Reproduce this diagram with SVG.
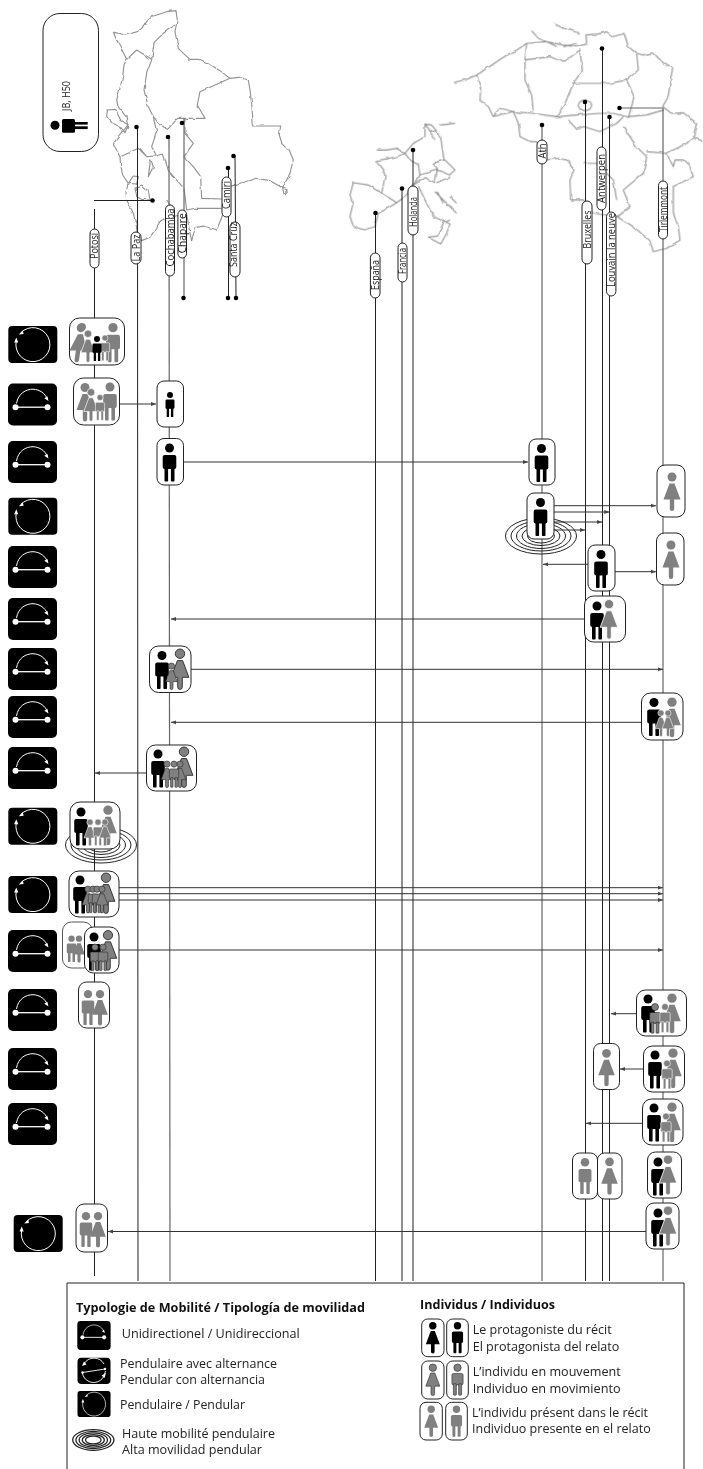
<svg xmlns="http://www.w3.org/2000/svg" width="703" height="1469" viewBox="0 0 703 1469">
<style>
text{font-family:"Open Sans","Liberation Sans",sans-serif;fill:#222}
.lab{font-size:11.5px;text-anchor:middle}
.leg{font-size:12.8px}
.hd{font-size:12.2px;font-weight:700;fill:#111}
.box{fill:#fff;stroke:#222;stroke-width:1}
.boxl{fill:#fff;stroke:#555;stroke-width:1}
.map{fill:none;stroke:#929292;stroke-width:3.4;stroke-linejoin:round}
.v{stroke:#222;stroke-width:1;fill:none}
.vg{stroke:#666;stroke-width:1.2;fill:none}
.c{stroke:#333;stroke-width:1;fill:none}
.ca{stroke:#333;stroke-width:1;fill:none;marker-end:url(#ah)}
.k{fill:#000}
.g{fill:#808080}
.o{fill:#808080;stroke:#333;stroke-width:.8}
.w{fill:#808080;stroke:#fff;stroke-width:.8}
.wo{fill:#808080;stroke:#222;stroke-width:.8}
.rw{fill:none;stroke:#fff}
.dot{fill:#000}
</style>
<defs>
<filter id="rough" filterUnits="userSpaceOnUse" x="0" y="0" width="703" height="320"><feTurbulence type="fractalNoise" baseFrequency=".12" numOctaves="2" seed="4" result="n"/><feDisplacementMap in="SourceGraphic" in2="n" scale="3" xChannelSelector="R" yChannelSelector="G"/></filter>
<marker id="ah" markerUnits="userSpaceOnUse" markerWidth="6" markerHeight="6" refX="5" refY="2.5" orient="auto"><path d="M0,.6L5,2.5L0,4.4Z" fill="#444"/></marker>
<g id="m"><circle cx="0" cy="4.5" r="4.5"/><rect x="-6.8" y="11.5" width="13.6" height="14" rx="2"/><rect x="-5" y="24" width="3.6" height="14" rx=".8"/><rect x="1.4" y="24" width="3.6" height="14" rx=".8"/></g>
<g id="f"><circle cx="0" cy="4.5" r="4.5"/><path d="M-2.5,11H2.5L8.5,27H2.2V36.3a2.2,2.2 0 0 1-4.4,0V27H-8.5Z"/></g>
<g id="ic"><rect width="49" height="37" rx="4" fill="#000"/><path class="rw" d="M12.5,6.7A17,17 0 1 1 8,15"/><path d="M10.5,8.5L14.5,4.6L15.3,8Z M8,11.5L5.8,16.5H10Z" fill="#fff"/></g>
<g id="ia"><rect width="49" height="42" rx="5" fill="#000"/><path stroke="#fff" stroke-width="1.3" d="M7.5,23.7H39"/><circle cx="7.5" cy="23.7" r="3" fill="#fff"/><circle cx="39.5" cy="23.7" r="3" fill="#fff"/><path class="rw" d="M8.5,20C10,10 18,5.6 25,5.7C32,6 37,10 39.5,15.5"/><path d="M40.5,17.5L36.3,14.8L39.3,12.7Z" fill="#fff"/></g>
<g id="r" fill="none" stroke="#222"><ellipse rx="35.5" ry="18"/><ellipse rx="30" ry="15"/><ellipse rx="24.5" ry="12.5"/><ellipse rx="19" ry="9.5"/><ellipse rx="13.5" ry="7"/></g>
</defs>

<g id="maps" filter="url(#rough)">
<g id="map-bolivia" transform="scale(.3333)">
<path class="map" d="M528,32L500,35L470,45L450,52L440,62L425,85L412,95L395,100L375,106L358,100L340,97L350,120L365,148L380,178L372,195L368,230L360,265L350,300L356,322L378,350L383,375L365,400L340,430L352,455L360,470L362,500L368,525L385,550L378,575L380,600L400,640L408,670L412,700L425,722L450,712L468,685L480,665L500,655L540,645L560,640L568,690L575,722L588,683L610,678L650,690L668,645L690,560L720,550L770,535L810,542L850,565L862,570L852,582L848,565L870,520L880,480L868,450L845,428L838,405L842,378L790,378L760,378L756,320L750,270L745,240L720,232L690,235L660,212L625,190L595,178L570,178L550,160L535,145L530,120L525,95L532,60Z"/>
<path class="map" d="M380,178L410,150L455,178M525,75L490,100L462,128L456,178L440,220L432,270L445,320L460,350L480,375L503,385L530,355L615,355L592,315L600,275L690,235"/>
<path class="map" d="M460,350L470,395L455,440L470,468L440,470L415,445L362,470M555,355L555,400L580,430L552,470L580,500L602,530L605,595L665,597M665,625L585,625L560,630L552,565L505,512L490,462L470,468M500,600L515,620L500,640M420,445L440,470"/>
<path class="map" d="M322,330L345,328L362,360L385,375L375,398L360,380L335,368L320,350Z"/>
<path class="map" d="M400,528L415,530L410,552L385,550ZM450,478L460,500L445,530L450,490ZM405,565L425,555L445,570L450,600L425,598L410,590Z"/>
</g>
<g id="map-europe" transform="translate(350,0) scale(.3333)">
<path class="map" d="M0,585L10,548L55,555L95,580L120,595L140,608L112,625L85,640L75,680L40,690L10,678L0,650L8,615Z"/>
<path class="map" d="M95,580L105,530L100,508L80,482L102,478L140,470L165,460L180,480L205,495L210,525L190,555L165,590L140,608"/>
<path class="map" d="M80,450L110,450L140,445L165,460L190,430L225,410L225,372L240,392L260,395L272,410L282,480L250,490L262,510L210,525M225,372L245,375L265,400M270,375L315,370M235,385L255,420"/>
<path class="map" d="M250,490L285,480L315,510L298,525L262,510L255,548L225,533L190,555M262,548L300,530M205,558L225,600L250,650L300,672L290,700L272,732L235,712L262,708L280,670L300,660M255,575L320,640M320,610L300,590M262,575L280,610"/>
</g>
<g id="map-belgium" transform="translate(350,0) scale(.3333)">
<path class="map" d="M312,247L345,240L380,225L425,195L470,165L500,150L530,130L590,125L640,135L680,140M545,92L565,115L590,125L620,140M615,72L640,85L665,92L690,100M640,140L680,130"/>
<path class="map" d="M680,140L710,132L708,105L745,102L770,95L790,110L822,100L835,140L860,160L880,165L910,158L940,190L968,205L960,250L955,290L938,320L965,340L1000,338L1040,370L1030,410L1059,425"/>
<path class="map" d="M380,225L392,265L390,300L415,320L430,350L450,325L490,335L505,370L510,410L540,425L560,425L590,480L625,475L650,480L672,510L660,540L662,600L700,600L730,640L800,650L850,680L900,722L910,755L950,745L990,720L985,680L970,640L970,560L1000,545L1030,530L1020,500L1000,480L975,480L970,500L950,460L1010,430L1030,410"/>
<path class="map" d="M430,350L490,335L550,340L620,350L680,345L750,340L790,340L830,350L890,345L940,330M530,130L525,180L525,240L545,285L550,335M525,180L600,170L640,187L690,150L697,210L670,250L645,310L620,350M670,250L720,250L780,250L830,240L865,210L860,160M830,240L852,290L835,355"/>
<ellipse class="map" cx="705" cy="316" rx="20" ry="16"/>
<path class="map" d="M655,360L680,388L700,380L750,395L800,370L820,350M820,380L860,440L890,470L880,520L820,570L840,620L800,650M700,490L740,490L790,540L800,600M890,455L950,460"/>
</g>
</g>

<g id="connectors">
<path class="v" d="M94.5,209V1276M94,200.5H152"/>
<path class="v" d="M137.5,127L138,1281"/>
<path class="vg" d="M169,137L170,1281"/>
<path class="vg" d="M184,118V298"/>
<path class="v" d="M228.5,168V298M235,156L236,298"/>
<path class="v" d="M375.5,213V1281M402,188.5V1281M413,150V1281"/>
<path class="vg" d="M542,125V1281"/>
<path class="v" d="M585.5,102V1281M602.5,48.5V1281M609.5,117V1281"/>
<path class="vg" d="M619.5,108H663V1281"/>
<g class="dot"><circle cx="152.5" cy="200.5" r="2.3"/><circle cx="136.5" cy="127" r="2.3"/><circle cx="168" cy="137" r="2.3"/><circle cx="182" cy="123" r="2.3"/><circle cx="183.5" cy="298" r="2.3"/><circle cx="228" cy="168" r="2.3"/><circle cx="233.5" cy="156" r="2.3"/><circle cx="228" cy="298" r="2.3"/><circle cx="236" cy="298" r="2.3"/><circle cx="375.5" cy="213" r="2.3"/><circle cx="402" cy="188.5" r="2.3"/><circle cx="413" cy="150" r="2.3"/><circle cx="542" cy="125" r="2.3"/><circle cx="585" cy="102" r="2.3"/><circle cx="602" cy="48.5" r="2.3"/><circle cx="609.5" cy="117" r="2.3"/><circle cx="619.5" cy="108" r="2.3"/></g>
<path class="ca" d="M119.5,404H156"/>
<path class="ca" d="M183.5,462H528"/>
<path class="ca" d="M554,505.7H656"/>
<path class="ca" d="M554,512H609.3"/>
<path class="ca" d="M554,522H602"/>
<path class="ca" d="M554,530H585"/>
<path class="ca" d="M588,564.3H543"/>
<path class="ca" d="M615,571.7H656"/>
<path class="ca" d="M584.5,619H171"/>
<path class="ca" d="M191,669.3H663"/>
<path class="ca" d="M641.5,722.3H171"/>
<path class="ca" d="M146.5,773H95"/>
<path class="ca" d="M119,887.7H663"/>
<path class="ca" d="M119,893.7H663"/>
<path class="ca" d="M119,900H663"/>
<path class="ca" d="M119,950H663"/>
<path class="ca" d="M636.5,1013.7H611"/>
<path class="ca" d="M643.5,1069H620"/>
<path class="ca" d="M642.5,1123.3H586"/>
<path class="ca" d="M646,1231.5H108"/>
</g>

<g id="title">
<rect class="box" x="43" y="13.5" width="55.5" height="138" rx="17"/>
<text transform="translate(70,111) rotate(-90)" font-size="11.5" textLength="30" lengthAdjust="spacingAndGlyphs">JB, H50</text>
<circle cx="55" cy="125.3" r="4.5"/><rect x="62" y="119" width="13" height="13.7" rx="1.5"/><rect x="74" y="122" width="13.7" height="2.6"/><rect x="74" y="126.3" width="13.7" height="2.8"/>
</g>

<g id="labels">
<g id="lab-potosi" transform="translate(94.5,248.5) rotate(-90)"><rect class="box" x="-19.5" y="-4.5" width="39" height="9" rx="4.5"/><text class="lab" x="2.5" y="3.8" textLength="26" lengthAdjust="spacingAndGlyphs">Potosí</text></g>
<g id="lab-lapaz" transform="translate(136,248) rotate(-90)"><rect class="box" x="-16" y="-5" width="32" height="10" rx="5"/><text class="lab" y="3.8" textLength="27" lengthAdjust="spacingAndGlyphs">La Paz</text></g>
<g id="lab-cochabamba" transform="translate(170,240.5) rotate(-90)"><rect class="box" x="-35.5" y="-4.5" width="71" height="9" rx="4.5"/><text class="lab" x="3" y="3.8" textLength="58" lengthAdjust="spacingAndGlyphs">Cochabamba</text></g>
<g id="lab-chapare" transform="translate(182.2,234) rotate(-90)"><rect class="box" x="-24" y="-4.3" width="48" height="8.6" rx="4.3"/><text class="lab" x=".7" y="3.8" textLength="40" lengthAdjust="spacingAndGlyphs">Chapare</text></g>
<g id="lab-camiri" transform="translate(226.5,197) rotate(-90)"><rect class="box" x="-20" y="-4.5" width="40" height="9" rx="4.5"/><text class="lab" x="2" y="3.8" textLength="28" lengthAdjust="spacingAndGlyphs">Camiri</text></g>
<g id="lab-santacruz" transform="translate(235,249.5) rotate(-90)"><rect class="box" x="-27.5" y="-5" width="55" height="10" rx="5"/><text class="lab" x="5" y="1.8" textLength="45" lengthAdjust="spacingAndGlyphs">Santa Cruz</text></g>
<g id="lab-espana" transform="translate(375.2,275.5) rotate(-90)"><rect class="box" x="-22.5" y="-4.8" width="45" height="9.6" rx="4.8"/><text class="lab" x=".5" y="3.8" textLength="30" lengthAdjust="spacingAndGlyphs">España</text></g>
<g id="lab-francia" transform="translate(402.5,262.5) rotate(-90)"><rect class="box" x="-19.5" y="-4.5" width="39" height="9" rx="4.5"/><text class="lab" x="1.5" y="3.8" textLength="26" lengthAdjust="spacingAndGlyphs">Francia</text></g>
<g id="lab-holanda" transform="translate(413,210.5) rotate(-90)"><rect class="box" x="-24.5" y="-5" width="49" height="10" rx="5"/><text class="lab" x="-1.5" y="3.8" textLength="30" lengthAdjust="spacingAndGlyphs">Holanda</text></g>
<g id="lab-ath" transform="translate(542,152) rotate(-90)"><rect class="box" x="-12" y="-5" width="24" height="10" rx="5"/><text class="lab" x="1" y="3.8" textLength="15" lengthAdjust="spacingAndGlyphs">Ath</text></g>
<g id="lab-bruxelles" transform="translate(587,232.5) rotate(-90)"><rect class="box" x="-31.5" y="-5" width="63" height="10" rx="5"/><text class="lab" x="3" y="3.8" textLength="38" lengthAdjust="spacingAndGlyphs">Bruxelles</text></g>
<g id="lab-antwerpen" transform="translate(601.5,178.5) rotate(-90)"><rect class="box" x="-31.5" y="-4.5" width="63" height="9" rx="4.5"/><text class="lab" y="3.8" textLength="49" lengthAdjust="spacingAndGlyphs">Antwerpen</text></g>
<g id="lab-louvain" transform="translate(611.2,254) rotate(-90)"><rect class="box" x="-42" y="-4.7" width="84" height="9.4" rx="4.7"/><text class="lab" x="4" y="3.8" textLength="74" lengthAdjust="spacingAndGlyphs">Louvain la neuve</text></g>
<g id="lab-tirlemmont" transform="translate(663,210) rotate(-90)"><rect class="box" x="-29" y="-4.5" width="58" height="9" rx="4.5"/><text class="lab" x=".5" y="3.8" textLength="45" lengthAdjust="spacingAndGlyphs">Tirlemmont</text></g>
</g>

<g id="mobility-types">
<use href="#ic" x="8.3" y="326"/>
<use href="#ia" x="8" y="383.5"/>
<use href="#ia" x="8" y="441"/>
<use href="#ic" x="8.3" y="497.7"/>
<use href="#ia" x="8" y="546"/>
<use href="#ia" x="8" y="598"/>
<use href="#ia" x="8" y="648"/>
<use href="#ia" x="8" y="696"/>
<use href="#ia" x="8" y="747"/>
<use href="#ic" x="8.3" y="807.7"/>
<use href="#ic" x="8.3" y="876"/>
<use href="#ia" x="8" y="930"/>
<use href="#ia" x="8" y="989"/>
<use href="#ia" x="8" y="1048"/>
<use href="#ia" x="8" y="1103"/>
<use href="#ic" x="13.7" y="1215"/>
</g>

<g id="n1"><rect class="box" x="69.5" y="318" width="55" height="47" rx="10"/>
<use href="#f" class="g" transform="translate(82,323) skewX(-8) scale(1.02)"/><use href="#m" class="g" transform="translate(113,323) scale(1.03)"/><use href="#f" class="w" transform="translate(88,330) scale(.84)"/><use href="#m" class="w" transform="translate(105,335) scale(.68)"/><use href="#m" class="k" transform="translate(97,336) scale(.66)"/></g>
<g id="n2"><rect class="box" x="73.5" y="378" width="46" height="47" rx="10"/>
<use href="#f" class="g" transform="translate(85,383) scale(1)"/><use href="#m" class="g" transform="translate(110,382.5) scale(1)"/><use href="#f" class="w" transform="translate(91,388.5) scale(.85)"/><use href="#m" class="w" transform="translate(100,394.5) scale(.68)"/></g>
<g id="n3"><rect class="box" x="157" y="381" width="26.5" height="46" rx="7"/><use href="#m" class="k" transform="translate(170,392) scale(.66)"/></g>
<g id="n4"><rect class="box" x="157" y="438.5" width="26.5" height="46.5" rx="7"/><use href="#m" class="k" transform="translate(169.5,443.5)"/></g>
<g id="n5"><rect class="box" x="529" y="439" width="26" height="46" rx="7"/><use href="#m" class="k" transform="translate(541.5,444)"/></g>
<g id="n6"><use href="#r" transform="translate(541,536)"/><rect class="box" x="527" y="493" width="27" height="46" rx="7"/><use href="#m" class="k" transform="translate(540.5,498)"/></g>
<g id="n7"><rect class="box" x="657" y="465" width="28" height="52" rx="8"/><use href="#f" class="g" transform="translate(672,472.5)"/></g>
<g id="n8"><rect class="box" x="656.5" y="533" width="27.5" height="52" rx="8"/><use href="#f" class="g" transform="translate(671,540.5)"/></g>
<g id="n9"><rect class="box" x="588" y="545" width="27" height="46" rx="7"/><use href="#m" class="k" transform="translate(601,550)"/></g>
<g id="n10"><rect class="box" x="584.5" y="596" width="41" height="46" rx="9"/><use href="#m" class="k" transform="translate(597,601.5)"/><use href="#f" class="w" transform="translate(609,599.5) scale(1.03)"/></g>
<g id="n11"><rect class="box" x="149.5" y="646" width="41.5" height="46.5" rx="9"/><use href="#m" class="k" transform="translate(162,651)"/><use href="#f" class="wo" transform="translate(180,649) scale(1.05)"/><use href="#f" class="wo" transform="translate(171.5,663) scale(.69)"/></g>
<g id="n12"><rect class="box" x="641.5" y="693" width="41.5" height="47" rx="9"/><use href="#m" class="k" transform="translate(654,698)"/><use href="#f" class="g" transform="translate(672,697.5) scale(1.03)"/><use href="#f" class="w" transform="translate(661,710) scale(.69)"/><use href="#f" class="w" transform="translate(668,710) scale(.69)"/></g>
<g id="n13"><rect class="box" x="146.5" y="745" width="50" height="46" rx="9"/><use href="#m" class="k" transform="translate(158,749.5)"/><use href="#f" class="wo" transform="translate(184,747) scale(1.05)"/><use href="#f" class="wo" transform="translate(167,761) scale(.69)"/><use href="#f" class="wo" transform="translate(180,761) scale(.69)"/><use href="#m" class="wo" transform="translate(174,761) scale(.69)"/></g>
<g id="n14"><use href="#r" transform="translate(101,845)"/><rect class="box" x="70" y="802" width="50" height="47" rx="10"/><use href="#m" class="k" transform="translate(81,807.5)"/><use href="#f" class="g" transform="translate(108,805.5) scale(1.03)"/><use href="#f" class="w" transform="translate(90,819) scale(.7)"/><use href="#m" class="w" transform="translate(98,819) scale(.7)"/><use href="#f" class="w" transform="translate(105,819) scale(.7)"/></g>
<g id="n15"><rect class="box" x="69" y="871" width="50" height="46" rx="10"/><use href="#m" class="k" transform="translate(80,875.5)"/><use href="#f" class="wo" transform="translate(106,873) scale(1.05)"/><use href="#f" class="wo" transform="translate(88,886) scale(.7)"/><use href="#m" class="wo" transform="translate(93,886) scale(.7)"/><use href="#m" class="wo" transform="translate(97,886) scale(.7)"/><use href="#f" class="wo" transform="translate(102,886) scale(.7)"/></g>
<g id="n16"><rect class="boxl" x="62.5" y="922" width="30" height="46" rx="9"/><use href="#m" class="g" transform="translate(71.5,935.5) scale(.7)"/><use href="#f" class="g" transform="translate(79,935.5) scale(.7)"/></g>
<g id="n17"><rect class="box" x="84.5" y="927" width="34.5" height="46" rx="9"/><use href="#m" class="k" transform="translate(94,932.5)"/><use href="#f" class="wo" transform="translate(108,930.5) scale(1.03)"/><use href="#m" class="wo" transform="translate(95,944) scale(.7)"/><use href="#m" class="wo" transform="translate(103,944) scale(.7)"/></g>
<g id="n18"><rect class="box" x="78.5" y="982" width="31" height="46" rx="8"/><use href="#m" class="g" transform="translate(88,990) scale(.92)"/><use href="#f" class="g" transform="translate(100,990) scale(.92)"/></g>
<g id="n19"><rect class="box" x="636.5" y="990" width="50" height="46" rx="9"/><use href="#m" class="k" transform="translate(648,994.5)"/><use href="#f" class="g" transform="translate(672,993.5) scale(1.03)"/><use href="#m" class="wo" transform="translate(655,1003.5) scale(.78)"/><use href="#m" class="w" transform="translate(665,1003.5) scale(.76)"/></g>
<g id="n20"><rect class="box" x="643.5" y="1046" width="41" height="46" rx="9"/><use href="#m" class="k" transform="translate(655,1050.5)"/><use href="#f" class="g" transform="translate(673,1048.5) scale(1.03)"/><use href="#m" class="w" transform="translate(667,1060) scale(.76)"/></g>
<g id="n21"><rect class="box" x="593.5" y="1043.5" width="26" height="46" rx="7"/><use href="#f" class="g" transform="translate(606.5,1049) scale(.97)"/></g>
<g id="n22"><rect class="box" x="642.5" y="1099" width="40.5" height="46" rx="9"/><use href="#m" class="k" transform="translate(654,1103.5)"/><use href="#f" class="g" transform="translate(672,1102.5) scale(1.03)"/><use href="#m" class="w" transform="translate(666,1113) scale(.76)"/></g>
<g id="n23"><rect class="box" x="647.5" y="1152" width="34" height="46" rx="8"/><use href="#m" class="k" transform="translate(658,1157.5)"/><use href="#f" class="w" transform="translate(668,1155) scale(1.04)"/></g>
<g id="n24"><rect class="box" x="572.5" y="1153" width="25" height="46" rx="7"/><use href="#m" class="g" transform="translate(585,1158) scale(.95)"/></g>
<g id="n25"><rect class="box" x="597.5" y="1153" width="24.5" height="46" rx="7"/><use href="#f" class="g" transform="translate(609.5,1157.5) scale(.97)"/></g>
<g id="n26"><rect class="box" x="646" y="1203" width="33" height="46" rx="8"/><use href="#m" class="k" transform="translate(658,1208.5)"/><use href="#f" class="w" transform="translate(668,1206) scale(1.04)"/></g>
<g id="n27"><rect class="box" x="76" y="1204" width="31.5" height="48" rx="8"/><use href="#m" class="g" transform="translate(86,1212) scale(.92)"/><use href="#f" class="g" transform="translate(98,1212) scale(.92)"/></g>

<g id="legend">
<path d="M67,1469V1283H684V1469" fill="#fff" stroke="#222" stroke-width="1"/>
<text class="hd" x="76" y="1311.5" textLength="289" lengthAdjust="spacingAndGlyphs">Typologie de Mobilité / Tipología de movilidad</text>
<use href="#ia" transform="translate(77.3,1321) scale(.68,.69)"/>
<text class="leg" x="121.7" y="1338" textLength="178" lengthAdjust="spacingAndGlyphs">Unidirectionel / Unidireccional</text>
<rect x="77.5" y="1357.7" width="33" height="26.3" rx="4"/>
<g fill="none" stroke="#fff" stroke-width=".9"><path d="M84,1364A11.5,11.5 0 0 1 104,1364"/><path d="M82.5,1372.5L105,1369"/><path d="M104,1376A11.5,11.5 0 0 1 84.5,1378A11.5,11.5 0 0 1 82.5,1373"/><path d="M104,1376L105.5,1371"/></g>
<g fill="#fff"><path d="M82,1366L84,1361.5L86.5,1364.5Z"/><path d="M106,1373L104.5,1378L101.5,1375.5Z"/><circle cx="82.5" cy="1372.5" r="1.2"/><circle cx="105" cy="1369" r="1.2"/></g>
<text class="leg" x="120" y="1367.7" textLength="157" lengthAdjust="spacingAndGlyphs">Pendulaire avec alternance</text>
<text class="leg" x="120" y="1384" textLength="145" lengthAdjust="spacingAndGlyphs">Pendular con alternancia</text>
<use href="#ic" transform="translate(77.5,1391) scale(.674,.703)"/>
<text class="leg" x="120" y="1409.3" textLength="125" lengthAdjust="spacingAndGlyphs">Pendulaire / Pendular</text>
<use href="#r" transform="translate(93.3,1440) scale(.58,.57)" stroke-width="2.2"/>
<text class="leg" x="122" y="1437.7" textLength="153" lengthAdjust="spacingAndGlyphs">Haute mobilité pendulaire</text>
<text class="leg" x="122" y="1454.3" textLength="140" lengthAdjust="spacingAndGlyphs">Alta movilidad pendular</text>
<text class="hd" x="420" y="1309" textLength="135" lengthAdjust="spacingAndGlyphs">Individus / Individuos</text>
<rect class="box" x="421.7" y="1319" width="22.3" height="37.7" rx="6"/><use href="#f" class="k" transform="translate(432.8,1322) scale(.82)"/>
<rect class="box" x="446.7" y="1319" width="21.6" height="37.7" rx="6"/><use href="#m" class="k" transform="translate(457.5,1322) scale(.82)"/>
<text class="leg" x="472.7" y="1334" textLength="139" lengthAdjust="spacingAndGlyphs">Le protagoniste du récit</text>
<text class="leg" x="472.7" y="1350.7" textLength="146.7" lengthAdjust="spacingAndGlyphs">El protagonista del relato</text>
<rect class="box" x="421.7" y="1361" width="22.3" height="38" rx="6"/><use href="#f" class="o" transform="translate(432.8,1364) scale(.82)"/>
<rect class="box" x="446.7" y="1361" width="21.6" height="38" rx="6"/><use href="#m" class="o" transform="translate(457.5,1364) scale(.82)"/>
<text class="leg" x="472.7" y="1376" textLength="148" lengthAdjust="spacingAndGlyphs">L’individu en mouvement</text>
<text class="leg" x="472.7" y="1392.7" textLength="148" lengthAdjust="spacingAndGlyphs">Individuo en movimiento</text>
<rect class="box" x="420" y="1402.3" width="22.3" height="37.7" rx="6"/><use href="#f" class="g" transform="translate(431.2,1405.5) scale(.82)"/>
<rect class="box" x="445.7" y="1402.3" width="21.6" height="37.7" rx="6"/><use href="#m" class="g" transform="translate(456.5,1405.5) scale(.82)"/>
<text class="leg" x="472" y="1416.7" textLength="176" lengthAdjust="spacingAndGlyphs">L’individu présent dans le récit</text>
<text class="leg" x="472" y="1433.3" textLength="178.7" lengthAdjust="spacingAndGlyphs">Individuo presente en el relato</text>
</g>
</svg>
